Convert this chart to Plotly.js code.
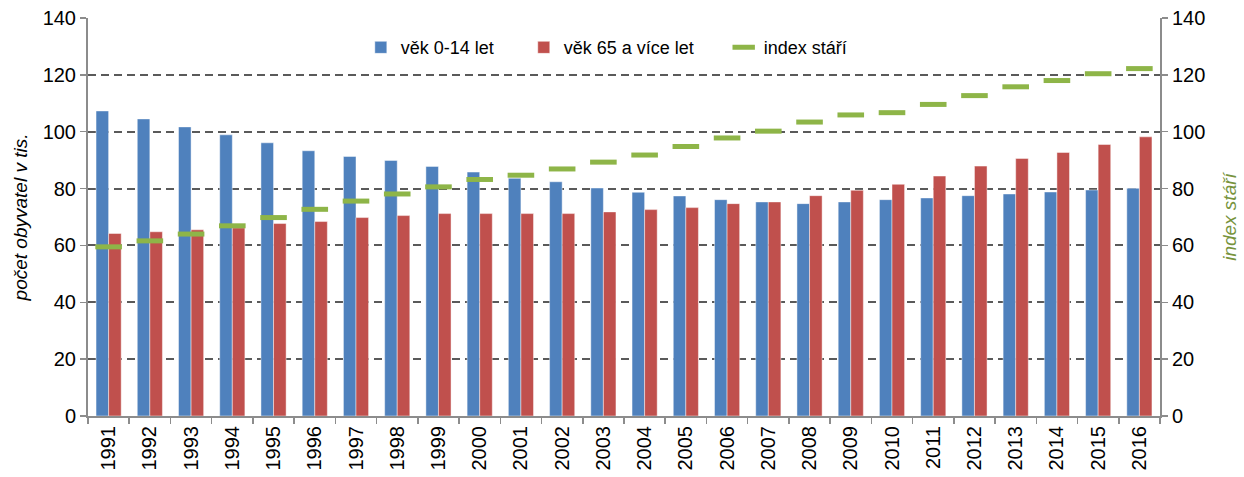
<!DOCTYPE html>
<html>
<head>
<meta charset="utf-8">
<script src="https://cdn.plot.ly/plotly-3.0.1.min.js"></script>
<style>html,body{margin:0;padding:0;background:#fff;}#chart{width:1244px;height:477px;}</style>
</head>
<body>
<div id="chart"></div>
<script>
const years = ["1991","1992","1993","1994","1995","1996","1997","1998","1999","2000","2001","2002","2003","2004","2005","2006","2007","2008","2009","2010","2011","2012","2013","2014","2015","2016"];
const age0to14 = [107.3,104.5,101.7,98.9,96.1,93.3,91.3,89.9,87.8,85.8,83.6,82.4,80.2,78.7,77.4,76.1,75.3,74.7,75.3,76.1,76.7,77.5,78.1,78.8,79.5,80.1];
const age65plus = [64.2,64.8,65.5,66.2,67.7,68.4,69.8,70.5,71.2,71.2,71.2,71.2,71.8,72.6,73.3,74.7,75.3,77.5,79.4,81.5,84.4,87.9,90.6,92.7,95.5,98.2];
const ageingIndex = [59.5,61.6,64.0,66.9,69.8,72.7,75.6,78.1,80.6,83.2,84.7,86.9,89.3,91.8,94.8,97.8,100.2,103.4,105.9,106.7,109.6,112.7,115.8,118.0,120.4,122.2];
const tickVals = [0,20,40,60,80,100,120,140];

const fam = 'Arial, "Liberation Sans", sans-serif';
const font = {family: fam, size: 20, color: '#000'};

const traces = [
  {type:'bar', name:'věk 0-14 let', x:years, y:age0to14, legend:'legend',
   marker:{color:'#4F81BD', line:{color:'rgba(255,255,255,0.45)', width:1}}},
  {type:'bar', name:'věk 65 a více let', x:years, y:age65plus, legend:'legend2',
   marker:{color:'#C0504D', line:{color:'rgba(255,255,255,0.45)', width:1}}},
  {type:'scatter', mode:'markers', name:'index stáří', x:years, y:ageingIndex, yaxis:'y2', legend:'legend3',
   marker:{symbol:'line-ew', size:19, color:'#9BBB59', line:{color:'#8EB548', width:5}}}
];

const legBase = {orientation:'h', y:0.972, xanchor:'left', yanchor:'top',
  font:{family:fam, size:18}, bgcolor:'rgba(255,255,255,0)', itemwidth:30};

const layout = {
  width:1244, height:477,
  margin:{l:88, r:84, t:18, b:61},
  paper_bgcolor:'#fff', plot_bgcolor:'#fff',
  font: font,
  barmode:'group', bargap:0.39, bargroupgap:0,
  showlegend:true,
  legend:Object.assign({}, legBase, {x:0.2545}),
  legend2:Object.assign({}, legBase, {x:0.4065}),
  legend3:Object.assign({}, legBase, {x:0.593}),
  xaxis:{type:'category', range:[-0.5, years.length-0.5], autorange:false, tickangle:-90, tickfont:{family:fam, size:20},
         showline:true, linecolor:'#8c8c8c', linewidth:2,
         ticks:'outside', tickson:'boundaries', ticklen:6, tickcolor:'#8c8c8c', tickwidth:1.5,
         showgrid:false, fixedrange:true},
  yaxis:{range:[0,140], tickvals:tickVals, ticktext:tickVals.map(String),
         showline:true, linecolor:'#8c8c8c', linewidth:2,
         ticks:'outside', ticklen:6, tickcolor:'#8c8c8c', tickwidth:1.5,
         showgrid:true, gridcolor:'#5a5a5a', gridwidth:2, griddash:'8px,5px',
         zeroline:false, tickfont:{family:fam, size:20},
         title:{text:'počet obyvatel v tis.', font:{family:fam, size:19, color:'#000', style:'italic'}, standoff:10}},
  yaxis2:{range:[0,140], tickvals:tickVals, ticktext:tickVals.map(String), overlaying:'y', side:'right',
          showline:true, linecolor:'#8c8c8c', linewidth:2,
          ticks:'outside', ticklen:6, tickcolor:'#8c8c8c', tickwidth:1.5,
          showgrid:false, zeroline:false, tickfont:{family:fam, size:20},
          title:{text:'index stáří', font:{family:fam, size:19, color:'#77933C', style:'italic'}, standoff:18}}
};

Plotly.newPlot('chart', traces, layout, {displayModeBar:false, staticPlot:true});
</script>
</body>
</html>
